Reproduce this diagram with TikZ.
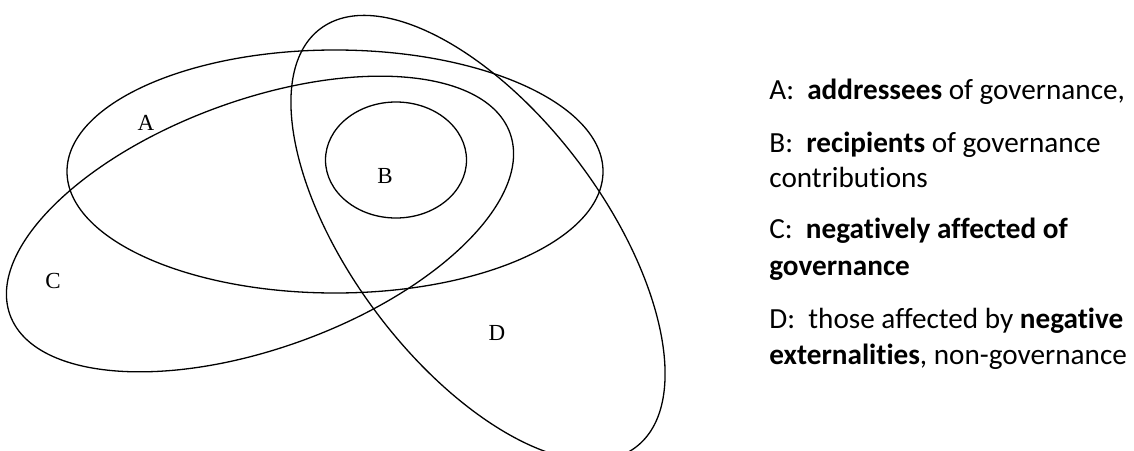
\documentclass[tikz,border=0pt]{standalone}
\usepackage{fontspec}
\setmainfont{Carlito}[Ligatures=NoCommon]
\newfontfamily\lblfont{Liberation Serif}
\begin{document}
\begin{tikzpicture}[x=0.5pt,y=-0.5pt,
  setline/.style={line width=0.65pt, black},
  setlabel/.style={font=\lblfont\fontsize{11.5}{13}\selectfont, inner sep=0pt},
  legline/.style={font=\fontsize{14.6}{17}\selectfont, anchor=base west, inner sep=0pt}]
\useasboundingbox (0,0) rectangle (1134,450);
% sets
\draw[setline] (335,171.5) ellipse [x radius=268, y radius=121.5];
\draw[setline] (396,160) ellipse [x radius=70.5, y radius=58];
\draw[setline, rotate around={20:(260,224)}] (260,224) ellipse [x radius=266, y radius=124];
\draw[setline, rotate around={-53:(478,238)}] (478,238) ellipse [x radius=262, y radius=126];
% set labels
\node[setlabel] (la) at (146,123) {A};
\node[setlabel] (lb) at (385,176) {B};
\node[setlabel] (lc) at (53,281) {C};
\node[setlabel] (ld) at (497,333) {D};
% legend
\node[legline] (t1) at (769,99.6) {A:\ \ \textbf{addressees} of governance,};
\node[legline] (t2) at (769,152) {B:\ \ \textbf{recipients} of governance};
\node[legline] (t3) at (769,187.5) {contributions};
\node[legline] (t4) at (769,238) {C:\ \ \textbf{negatively affected of}};
\node[legline] (t5) at (769,275) {\textbf{governance}};
\node[legline] (t6) at (769,328) {D:\ \ those affected by \textbf{negative}};
\node[legline] (t7) at (769,364) {\textbf{externalities}, non-governance};
\end{tikzpicture}
\end{document}
